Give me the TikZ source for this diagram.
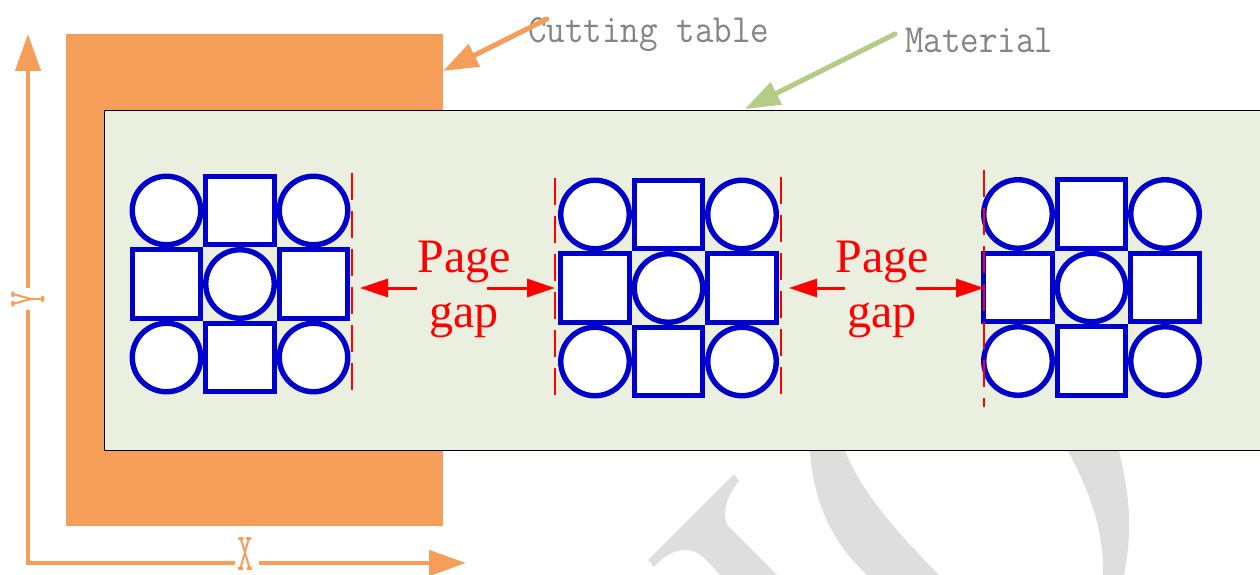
\documentclass[tikz,border=0pt]{standalone}
\usepackage{fontspec}
\setmainfont{Liberation Serif}
\newfontfamily\lblfont{Latin Modern Mono}[FakeStretch=0.9]
\newfontfamily\axfont{Latin Modern Mono}[FakeStretch=0.58]
\usetikzlibrary{arrows.meta}
\definecolor{tableor}{HTML}{F49E59}
\definecolor{matfill}{HTML}{EAEFDF}
\definecolor{matgreen}{HTML}{B5CC86}
\definecolor{shapeblue}{HTML}{0000CC}
\definecolor{wmgray}{HTML}{DEDEDE}
\definecolor{lblgray}{HTML}{858585}
\tikzset{
  lbl/.style={font=\lblfont\fontsize{40}{48}\selectfont, text=lblgray, inner sep=0pt},
  axlbl/.style={font=\axfont\fontsize{54}{60}\selectfont, text=tableor, inner sep=3pt},
  axisline/.style={draw=tableor, line width=4.8pt},
  axhead/.style={-{Triangle[length=37pt,width=25pt]}},
  pointer/.style={line width=5pt, line cap=round, -{Triangle[length=35pt,width=24pt]}},
  sqcell/.style={draw=shapeblue, fill=white, line width=5.4pt, rectangle, minimum size=68.5pt, inner sep=0pt},
  circcell/.style={draw=shapeblue, fill=white, line width=5.4pt, circle, minimum size=68.5pt, inner sep=0pt},
  gapline/.style={draw=red, line width=2.6pt, dash pattern=on 27pt off 11pt},
  gaptxt/.style={font=\fontsize{48}{55}\selectfont, text=red, align=center, inner sep=0pt},
  gaparrow/.style={draw=red, line width=3pt, -{Triangle[length=28pt,width=18pt]}}
}
\begin{document}
\begin{tikzpicture}[x=1pt,y=-1pt]
\clip (0,0) rectangle (1260,575);
\fill[white] (0,0) rectangle (1260,575);

% watermark
\fill[wmgray] (809,440) .. controls (812,500) and (830,540) .. (867,575) -- (939,575) .. controls (895,530) and (858,490) .. (841,440) -- cycle;
\fill[wmgray] (1062,440) .. controls (1090,490) and (1104,530) .. (1103,575) -- (1124,575) .. controls (1133,530) and (1130,490) .. (1116,440) -- cycle;
\fill[wmgray] (734,474) -- (739,481) .. controls (727,495) and (722,512) .. (727,525) -- (777,575) -- (720,575) .. controls (705,558) and (698,550) .. (685,550) .. controls (672,550) and (662,558) .. (654,567) -- (648,560) -- cycle;

% cutting table and material
\fill[tableor] (66,34) rectangle (443,526);
\filldraw[fill=matfill, draw=black, line width=0.9pt] (104,110) rectangle (1275,450);

% axes
\coordinate (origin) at (28,563);
\coordinate (ytip) at (28,34);
\coordinate (xtip) at (466,563);
\node[axlbl, rotate=90] (ylbl) at (28,299) {Y};
\node[axlbl, inner sep=0pt] (xlbl) at (246,554) {X};
\draw[axisline] (origin) -- (ylbl);
\draw[axisline, axhead] (ylbl) -- (ytip);
\draw[axisline, line cap=rect, shorten >=5pt] (origin) -- (xlbl.west |- origin);
\draw[axisline, axhead, shorten <=5pt] (xlbl.east |- origin) -- (xtip);

% labels
\node[lbl, anchor=base west] (cutlbl) at (528,43) {Cutting table};
\node[lbl, anchor=base west] (matlbl) at (905,53) {Material};
\coordinate (cutstart) at (547,19);
\coordinate (tabletip) at (443,71);
\coordinate (matstart) at (895,34);
\coordinate (mattip) at (745,109);
\draw[pointer, tableor] (cutstart) -- (tabletip);
\draw[pointer, matgreen] (matstart) -- (mattip);

% pattern groups
\foreach \g/\cx/\cy in {1/240/284, 2/668.5/288, 3/1091.5/287.5}{
  \foreach \k/\dx/\dy in {1/0/-1, 2/-1/0, 3/1/0, 4/0/1}{
    \node[sqcell] (g\g s\k) at ({\cx+\dx*73.5},{\cy+\dy*73.5}) {};
  }
  \foreach \k/\dx/\dy in {1/-1/-1, 2/1/-1, 3/0/0, 4/-1/1, 5/1/1}{
    \node[circcell] (g\g c\k) at ({\cx+\dx*73.5},{\cy+\dy*73.5}) {};
  }
}

% dashed boundary lines
\coordinate (d1t) at (352,173); \coordinate (d1b) at (352,392);
\coordinate (d2t) at (555,178); \coordinate (d2b) at (555,397);
\coordinate (d3t) at (781,177); \coordinate (d3b) at (781,396);
\coordinate (d4t) at (984,170); \coordinate (d4b) at (984,407);
\draw[gapline] (d1t) -- (d1b);
\draw[gapline] (d2t) -- (d2b);
\draw[gapline] (d3t) -- (d3b);
\draw[gapline] (d4t) -- (d4b);

% page gap labels and arrows
\node[gaptxt] (gap1) at (464,289) {Page\\gap};
\node[gaptxt] (gap2) at (882,289) {Page\\gap};
\coordinate (a1s) at (417,288); \coordinate (a1t) at (360,288);
\coordinate (a2s) at (487,288); \coordinate (a2t) at (555,288);
\coordinate (a3s) at (845,288); \coordinate (a3t) at (789,288);
\coordinate (a4s) at (916,288); \coordinate (a4t) at (984,288);
\draw[gaparrow] (a1s) -- (a1t);
\draw[gaparrow] (a2s) -- (a2t);
\draw[gaparrow] (a3s) -- (a3t);
\draw[gaparrow] (a4s) -- (a4t);
\end{tikzpicture}
\end{document}
